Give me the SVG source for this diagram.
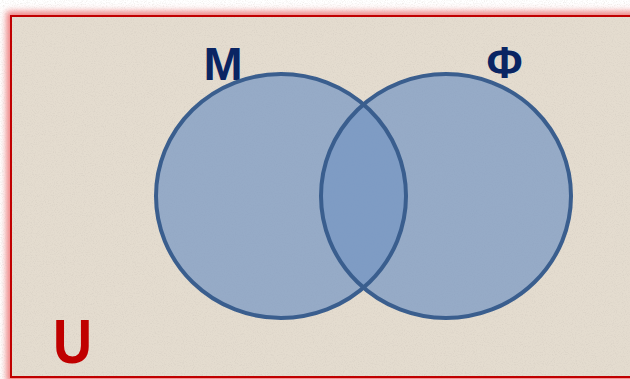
<svg xmlns="http://www.w3.org/2000/svg" width="630" height="379" viewBox="0 0 630 379">
<defs>
<filter id="glow" x="-10%" y="-10%" width="120%" height="120%"><feGaussianBlur stdDeviation="3"/></filter>
<filter id="tex"><feTurbulence type="fractalNoise" baseFrequency="0.9" numOctaves="2" seed="3"/><feColorMatrix type="matrix" values="0 0 0 0 0.55  0 0 0 0 0.5  0 0 0 0 0.45  0 0 0 -1.4 0.75"/></filter>
<style>
.set{fill:#7596c3;fill-opacity:0.7;stroke:none}
.edge{fill:none;stroke:#3a5e8e;stroke-width:4}
.lbl{font-family:"Liberation Sans",Arial,sans-serif;font-weight:bold;fill:#0a2563}
</style>
</defs>
<rect width="630" height="379" fill="#ffffff"/>
<rect x="11" y="16" width="640" height="362" fill="none" stroke="#f07a7a" stroke-width="9" filter="url(#glow)"/>
<rect x="11" y="16" width="640" height="361" fill="#e4dccf"/>
<rect x="11" y="16" width="640" height="361" filter="url(#tex)" opacity="0.5"/>
<rect x="11" y="16" width="640" height="361" fill="none" stroke="#c00000" stroke-width="2"/>
<g id="nodeM">
<ellipse class="set" cx="281" cy="196" rx="125" ry="122"/>
<text class="lbl" x="223" y="80" font-size="47" text-anchor="middle">M</text>
</g>
<g id="nodePhi">
<ellipse class="set" cx="446" cy="196" rx="125" ry="122"/>
<text class="lbl" x="504.5" y="78" font-size="44" text-anchor="middle">Φ</text>
</g>
<g id="outlines">
<ellipse class="edge" cx="281" cy="196" rx="125" ry="122"/>
<ellipse class="edge" cx="446" cy="196" rx="125" ry="122"/>
</g>
<g id="nodeU">
<text x="72.5" y="363" font-family="'Liberation Sans',Arial,sans-serif" font-weight="bold" font-size="63" fill="#c00000" text-anchor="middle" textLength="39" lengthAdjust="spacingAndGlyphs">U</text>
</g>
<g id="connectors"/>
</svg>
